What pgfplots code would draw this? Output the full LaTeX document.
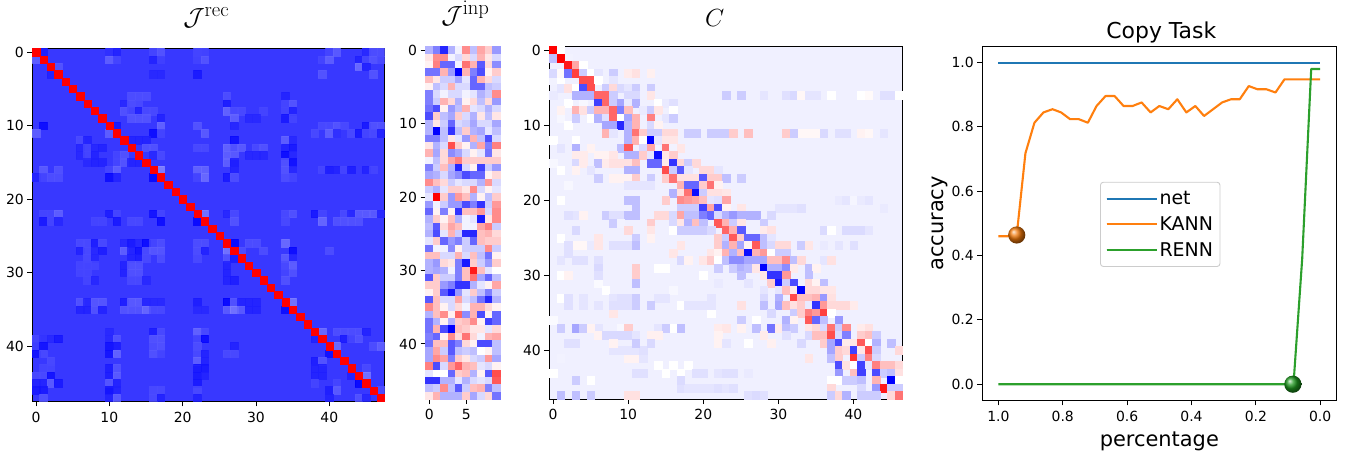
\documentclass[border=0pt]{standalone}
\usepackage[no-math]{fontspec}
\setmainfont{DejaVu Sans}
\usepackage{pgfplots}
\usepackage{pgfplotstable}
\pgfplotsset{compat=1.18}
\pgfplotsset{
  /pgf/number format/assume math mode=true,
  colormap={bwr}{rgb255=(0,0,255) rgb255=(255,255,255) rgb255=(255,0,0)},
  base/.style={scale only axis, anchor=south west, axis line style={line width=0.9bp},
    tick style={line width=0.9bp,black}, major tick length=5bp, tick align=outside,
    tick label style={font=\fontsize{14}{16}\selectfont}, xticklabel style={yshift=-2bp}, xtick pos=bottom, ytick pos=left},
  heat/.style={base, y dir=reverse, point meta min=-100, point meta max=100, enlargelimits=false,
    title style={font=\fontsize{29}{31}\selectfont, at={(0.5,1)}, anchor=south, yshift=11bp}},
  cellmarks/.style={only marks, scatter, mark=square*, mark size=#1, point meta=explicit,
    scatter/use mapped color={draw=mapped color, fill=mapped color, line width=0.1bp}},
  ballnode/.style={only marks, mark=none, forget plot, point meta=y, nodes near coords={},
    every node near coord/.style={circle, anchor=center, inner sep=0pt, minimum size=17.2bp, ball color=#1}},
}
\definecolor{ballO}{RGB}{240,120,10}
\definecolor{ballG}{RGB}{30,150,30}
\pgfplotstableread{
-30 -50 -85 -30 -5 45 -25 35 20 -40
10 45 45 -5 -15 15 -15 30 10 -15
5 50 -60 -60 -5 55 30 -65 15 -45
-55 -55 30 -40 -100 30 -50 -70 5 20
25 10 -20 -20 -35 -10 -60 30 15 -15
5 -25 -15 30 -15 -15 -60 -60 -25 -20
-50 -15 -5 -15 -15 -5 -10 -30 -20 45
-50 -20 30 15 -30 5 15 -25 15 -40
-55 -70 5 -40 -25 30 -10 -15 -30 -15
-70 20 -25 -35 20 -15 -30 10 -25 10
-30 10 -20 -60 -15 -20 -35 -15 -15 -35
-30 -100 -25 -80 -25 20 -30 -35 -10 -25
-50 -50 -25 10 -10 -40 30 -25 -70 -15
10 -30 -15 70 20 5 -30 35 -50 50
30 -35 15 -45 -35 -15 5 -10 -55 10
-5 -25 15 35 50 20 20 20 20 20
-50 -20 25 -30 -85 -15 5 -75 -20 -40
-35 -30 -15 -35 -45 -70 -60 -60 5 15
45 25 15 -20 -10 -15 -15 -30 40 -15
-20 -30 -10 20 20 10 45 -15 5 -10
-10 100 20 -40 40 25 -30 5 -25 20
-40 -5 -20 -40 -40 -70 -50 -80 -20 40
-60 5 -50 5 -80 25 25 40 -15 45
-30 20 5 25 -30 -5 -10 -90 10 45
-25 -65 15 35 25 -5 -5 35 50 -20
-30 -70 -10 30 -20 -85 -85 25 30 15
-10 20 -60 -40 -50 -20 -60 25 20 20
-55 -5 -5 -45 5 -20 -20 -20 45 -20
25 25 -15 -15 30 -15 25 -25 -55 5
-30 -40 15 10 -50 -90 20 -20 -40 20
-30 -35 -30 -5 -50 25 90 25 -10 0
-65 20 -20 -20 -50 25 55 -35 -60 -25
20 20 -40 -50 -80 -80 -30 -10 5 35
5 20 -65 -90 -40 -10 20 -25 -50 -20
-65 25 -15 -15 35 -15 -25 -55 -85 -30
45 25 5 -15 15 -5 30 30 15 5
-30 25 45 5 60 -45 30 -70 5 -60
-55 -30 5 -30 20 25 45 5 -75 -60
-55 30 -70 -100 25 20 10 10 -10 15
-50 -60 5 45 15 55 15 -5 30 35
-55 25 25 -65 -50 15 5 -70 -70 -25
-35 35 -20 -65 -25 -20 -25 0 5 -25
-35 45 35 -50 20 10 -15 -20 40 -35
50 -70 -15 40 60 30 25 -10 -15 5
-10 0 0 -60 20 25 -30 5 -65 70
-80 -80 -30 -30 -10 -30 -15 -10 -15 65
-25 -20 45 -25 -65 -20 25 30 -50 -25
10 30 -30 -30 -30 20 -35 -15 15 -55
}\inpdata
\begin{document}
\begin{tikzpicture}
\useasboundingbox (0,0) rectangle (1351bp,453bp);
% ---------- J rec
\begin{axis}[heat, at={(32.3bp,51.7bp)}, width=352bp, height=353bp, xmin=-0.5, xmax=47.5, ymin=-0.5, ymax=47.5,
  xtick={0,10,20,30,40}, ytick={0,10,20,30,40}, title={$\mathcal{J}^{\mathrm{rec}}$}, title style={xshift=-2bp},
  axis background/.style={fill={rgb,255:red,56;green,56;blue,255}}]
\addplot[cellmarks=3.75bp, scatter/use mapped color={draw=mapped color, fill=mapped color, line width=0.1bp, opacity=.8}] coordinates {
(1,0)[-90](10,0)[-82](11,0)[-88](16,0)[-72](17,0)[-65](22,0)[-72](23,0)[-73](40,0)[-72](41,0)[-62](45,0)[-85](46,0)[-68](47,0)[-68]
(0,1)[-60](10,1)[-60](11,1)[-72](16,1)[-88](17,1)[-74](22,1)[-73](23,1)[-65](39,1)[-72](40,1)[-60](44,1)[-88](45,1)[-72](46,1)[-65](47,1)[-70]
(3,2)[-65](44,2)[-55](45,2)[-88]
(2,3)[-88](16,3)[-85](17,3)[-85](22,3)[-92](39,3)[-65](46,3)[-65]
(26,6)[-68](34,6)[-88](13,6)[-68](14,6)[-68](15,6)[-68]
(12,7)[-85](13,7)[-68](14,7)[-70](26,7)[-90](34,7)[-72](35,7)[-65]
(12,8)[-66](13,8)[-72](14,8)[-88](15,8)[-70](16,8)[-70](26,8)[-58](27,8)[-70](28,8)[-70](31,8)[-72](34,8)[-72](35,8)[-88]
(13,9)[-65](14,9)[-65](15,9)[-65](17,9)[-88](27,9)[-60](29,9)[-85](30,9)[-85](34,9)[-92](35,9)[-72]
(1,10)[-98](11,10)[-92](17,10)[-58](22,10)[-65](27,10)[-86](39,10)[-70](40,10)[-70](41,10)[-65](42,10)[-70](45,10)[-92](46,10)[-66](47,10)[-66]
(0,11)[-60](10,11)[-60](16,11)[-98](17,11)[-72](23,11)[-62](38,11)[-70](40,11)[-60](41,11)[-82](43,11)[-70](44,11)[-92](45,11)[-72](46,11)[-70](47,11)[-88]
(6,12)[-70](7,12)[-88](13,12)[-88](14,12)[-88](15,12)[-88](27,12)[-96](34,12)[-60](35,12)[-85]
(6,13)[-86](7,13)[-72](8,13)[-86](9,13)[-88](15,13)[-66](16,13)[-66](22,13)[-70](23,13)[-70](26,13)[-58](27,13)[-66](28,13)[-62](30,13)[-70](31,13)[-66](34,13)[-88](35,13)[-92]
(6,14)[-86](7,14)[-72](8,14)[-88](11,14)[-72](12,14)[-66](16,14)[-85](17,14)[-70](26,14)[-60](27,14)[-62](29,14)[-86](30,14)[-86](31,14)[-86](34,14)[-98](35,14)[-86]
(7,15)[-85](8,15)[-88](9,15)[-88](11,15)[-72](12,15)[-65](13,15)[-88](14,15)[-88](26,15)[-60](27,15)[-90](34,15)[-66](35,15)[-96]
(1,16)[-62](3,16)[-66](10,16)[-72](11,16)[-60](17,16)[-45](22,16)[-58](23,16)[-58](27,16)[-88](34,16)[-65](35,16)[-86](39,16)[-72](40,16)[-90](41,16)[-88](42,16)[-72](43,16)[-90](45,16)[-88](46,16)[-72]
(0,17)[-88](1,17)[-72](2,17)[-68](3,17)[-68](10,17)[-98](11,17)[-88](16,17)[-100](22,17)[-72](23,17)[-55](26,17)[-92](27,17)[-68](34,17)[-68](35,17)[-72]
(1,22)[-72](2,22)[-72](3,22)[-60](10,22)[-90](11,22)[-72](16,22)[-95](17,22)[-72](23,22)[-50](26,22)[-86](27,22)[-70](34,22)[-70](35,22)[-66](38,22)[-92](39,22)[-72](42,22)[-70](43,22)[-85](44,22)[-62](45,22)[-62](46,22)[-62](47,22)[-85]
(1,23)[-92](2,23)[-72](3,23)[-86](8,23)[-72](9,23)[-72](11,23)[-92](13,23)[-70](14,23)[-70](17,23)[-98](22,23)[-100](27,23)[-65](34,23)[-70](39,23)[-56](41,23)[-66](42,23)[-66](43,23)[-66](44,23)[-66]
(6,26)[-70](7,26)[-70](8,26)[-90](9,26)[-70](12,26)[-85](13,26)[-92](14,26)[-86](15,26)[-98](16,26)[-72](17,26)[-68](22,26)[-68](23,26)[-68](27,26)[-100](29,26)[-68](30,26)[-68](34,26)[-55]
(6,27)[-88](7,27)[-70](8,27)[-85](9,27)[-90](12,27)[-60](13,27)[-88](14,27)[-95](15,27)[-70](16,27)[-64](17,27)[-64](22,27)[-68](23,27)[-88](26,27)[-50](28,27)[-68](31,27)[-68](35,27)[-98](40,27)[-68]
(7,28)[-70](8,28)[-86](13,28)[-88](14,28)[-90](15,28)[-70](17,28)[-68](22,28)[-70](26,28)[-66](27,28)[-90](34,28)[-62](35,28)[-86]
(6,29)[-72](7,29)[-72](8,29)[-72](12,29)[-88](13,29)[-66](14,29)[-66](26,29)[-88](34,29)[-70](35,29)[-60]
(6,30)[-72](7,30)[-72](12,30)[-88](13,30)[-66](14,30)[-66](26,30)[-88](34,30)[-72](35,30)[-66]
(7,31)[-72](8,31)[-86](13,31)[-70](14,31)[-70](15,31)[-85](26,31)[-88](27,31)[-90](34,31)[-66]
(6,34)[-66](7,34)[-86](8,34)[-64](9,34)[-64](12,34)[-90](13,34)[-62](14,34)[-62](15,34)[-86](16,34)[-85](17,34)[-85](22,34)[-90](26,34)[-100](27,34)[-66](28,34)[-88](29,34)[-88](30,34)[-88](35,34)[-50]
(6,35)[-88](7,35)[-88](8,35)[-66](9,35)[-88](12,35)[-65](13,35)[-65](14,35)[-65](15,35)[-56](16,35)[-70](17,35)[-70](22,35)[-85](23,35)[-85](26,35)[-62](27,35)[-50](28,35)[-62](29,35)[-88](30,35)[-88](34,35)[-98]
(10,38)[-85](16,38)[-90](17,38)[-70](22,38)[-58](23,38)[-70](39,38)[-55](41,38)[-68](42,38)[-68](43,38)[-68](44,38)[-68](45,38)[-88]
(0,39)[-72](1,39)[-80](2,39)[-85](3,39)[-92](10,39)[-85](11,39)[-66](16,39)[-66](17,39)[-66](22,39)[-72](23,39)[-98](38,39)[-88](42,39)[-90](43,39)[-72](44,39)[-66]
(0,40)[-75](1,40)[-95](10,40)[-95](11,40)[-90](16,40)[-68](17,40)[-66](22,40)[-68](27,40)[-88](41,40)[-55](46,40)[-68](47,40)[-60]
(0,41)[-95](1,41)[-70](10,41)[-95](11,41)[-58](16,41)[-66](17,41)[-72](22,41)[-70](23,41)[-88](26,41)[-70](27,41)[-70](40,41)[-96]
(2,42)[-70](22,42)[-60](23,42)[-88](38,42)[-90](39,42)[-65]
(1,43)[-72](2,43)[-72](10,43)[-90](11,43)[-66](22,43)[-92](23,43)[-92](38,43)[-88](39,43)[-88](45,43)[-70]
(0,44)[-70](1,44)[-70](2,44)[-95](10,44)[-90](11,44)[-62](22,44)[-92](23,44)[-88](38,44)[-88](39,44)[-88](43,44)[-88](45,44)[-50]
(0,45)[-88](1,45)[-88](2,45)[-62](3,45)[-92](10,45)[-64](11,45)[-88](22,45)[-92](38,45)[-72](41,45)[-72](44,45)[-100]
(0,46)[-92](1,46)[-92](10,46)[-95](11,46)[-88](16,46)[-70](17,46)[-70](22,46)[-70](40,46)[-90](41,46)[-62](47,46)[-68]
(1,47)[-66](10,47)[-88](11,47)[-62](16,47)[-70](17,47)[-88](22,47)[-88](40,47)[-88](44,47)[-66](45,47)[-85]
};
\addplot[cellmarks=3.68bp] coordinates {
(0,0)[100](1,1)[100](2,2)[100](3,3)[100](4,4)[100](5,5)[100](6,6)[100](7,7)[100](8,8)[100](9,9)[100](10,10)[100](11,11)[100](12,12)[100](13,13)[100](14,14)[100](15,15)[100](16,16)[100](17,17)[100](18,18)[100](19,19)[100](20,20)[100](21,21)[100](22,22)[100](23,23)[100](24,24)[100](25,25)[100](26,26)[100](27,27)[100](28,28)[100](29,29)[100](30,30)[100](31,31)[100](32,32)[100](33,33)[100](34,34)[100](35,35)[100](36,36)[100](37,37)[100](38,38)[100](39,39)[100](40,40)[100](41,41)[100](42,42)[100](43,43)[100](44,44)[100](45,45)[100](46,46)[100](47,47)[100]
};
\end{axis}
% ---------- J inp
\begin{axis}[heat, at={(425.5bp,54bp)}, width=74bp, height=352.5bp, xmin=-0.5, xmax=9.5, ymin=-0.5, ymax=47.5,
  xtick={0,5}, ytick={0,10,20,30,40}, title={$\mathcal{J}^{\mathrm{inp}}$}, title style={xshift=3bp}]
\pgfplotsinvokeforeach{0,...,9}{
\addplot[cellmarks=3.75bp] table[x expr=#1, y expr=\coordindex, meta index=#1, header=false] {\inpdata};
}
\end{axis}
% ---------- C
\begin{axis}[heat, at={(549.3bp,54bp)}, width=353bp, height=352.5bp, xmin=-0.5, xmax=46.5, ymin=-0.5, ymax=46.5,
  xtick={0,10,20,30,40}, ytick={0,10,20,30,40}, title={$C$}, title style={xshift=-11bp},
  axis background/.style={fill={rgb,255:red,240;green,240;blue,255}}]
\addplot[cellmarks=3.8bp] coordinates {
(2,1)[-5](0,4)[-5](1,4)[0](0,6)[-8](2,7)[0](4,7)[-3](1,9)[-3](2,10)[0](0,12)[0](3,12)[0](0,15)[-3](1,16)[0](2,18)[-3](1,20)[0](1,30)[0](2,30)[5](1,33)[0](0,36)[-2](1,28)[-10](6,31)[-2](7,32)[0](1,25)[0](8,35)[10](9,37)[-3](1,41)[-5](0,43)[0](5,44)[0](14,42)[0](17,43)[0](18,42)[0](15,29)[0](20,30)[0](16,32)[-3](17,28)[-15](21,35)[0](26,39)[0](27,36)[0]
(28,6)[-10](31,6)[-12](32,6)[-15](33,6)[3](34,6)[-10](35,6)[-10](37,6)[0](41,6)[0](42,6)[2](44,6)[-12](45,6)[-12](46,6)[0]
(33,11)[3](34,11)[3](35,11)[3](36,11)[-15](38,11)[-12](39,11)[-12](41,11)[5](42,11)[3](44,11)[-10]
(6,28)[-12](6,29)[-15](6,30)[-12](4,33)[-10](2,33)[-12](2,34)[-12](4,34)[-10](8,33)[-10](9,33)[-12](10,33)[-12](8,34)[-12](9,34)[-12](10,34)[-12](6,34)[-10]
(14,33)[-10](15,33)[-10](17,34)[0](18,34)[-10](19,34)[-10](20,34)[-10](21,33)[-10](21,34)[-10]
(3,22)[-10](4,22)[5](2,22)[-12](3,26)[3](4,26)[3](2,26)[-12](2,27)[-12](3,28)[-12](4,28)[-12](5,26)[-8](8,26)[-12](9,26)[-12](10,26)[-12]
(38,20)[-8](39,20)[-10](40,20)[-4](41,20)[-8](42,20)[-10](44,21)[-8](30,21)[-10](31,21)[-10](32,21)[-10](33,21)[-12]
(36,24)[-14](37,24)[0](39,24)[-14](40,24)[-14](41,24)[-14](42,24)[-10](36,26)[-8](38,26)[-10](40,26)[-12]
(19,43)[-12](20,43)[-12](22,43)[-10](23,43)[-12](24,43)[-12](26,43)[-8](16,42)[0](15,43)[0](11,43)[-12](12,43)[-12](10,41)[5](11,41)[5](12,41)[-10]
(17,45)[-12](18,45)[-10](19,45)[-10](20,45)[-10](21,45)[-10](22,45)[-12](23,45)[-10](24,45)[-12](17,44)[-14](26,46)[-12](27,46)[-14](28,46)[-12]
(8,40)[-10](9,40)[-10](10,40)[-10](11,40)[-10](12,40)[-12](2,39)[-12](3,39)[-12](14,37)[-10](16,37)[0](6,37)[-10]
};
\addplot[cellmarks=3.8bp] coordinates {
(0,0)[100](1,0)[0]
(0,1)[-25](1,1)[100]
(2,2)[90](3,2)[35](4,2)[0]
(0,3)[-15](1,3)[2](2,3)[-55](3,3)[75](4,3)[-20](5,3)[0](6,3)[-10](8,3)[-20](10,3)[8](11,3)[12](13,3)[6]
(4,4)[70](5,4)[70](6,4)[0](8,4)[-10]
(1,5)[-10](2,5)[12](3,5)[0](4,5)[-70](5,5)[70](7,5)[-20](8,5)[15](9,5)[-15](10,5)[-10](11,5)[-20](13,5)[-20]
(3,6)[-30](4,6)[-30](5,6)[-30](6,6)[60](7,6)[60](8,6)[-20](10,6)[-15](11,6)[-15](13,6)[10](23,6)[-20](25,6)[-20]
(6,7)[-75](7,7)[60](8,7)[-20](9,7)[-35](10,7)[-8](11,7)[-30](14,7)[0](15,7)[-8](16,7)[-12]
(1,8)[5](3,8)[30](4,8)[12](5,8)[-20](6,8)[30](7,8)[30](8,8)[60](9,8)[-50](10,8)[25](12,8)[-8](13,8)[-20](14,8)[10](16,8)[0]
(3,9)[-20](5,9)[0](6,9)[-30](7,9)[-12](8,9)[60](9,9)[0](10,9)[-35](11,9)[30](13,9)[50](15,9)[-10](16,9)[-20]
(7,10)[-35](8,10)[-35](9,10)[-85](10,10)[-30](11,10)[30](13,10)[-15](14,10)[5]
(7,11)[30](8,11)[-10](10,11)[-30](11,11)[55](12,11)[20](13,11)[-20](14,11)[-20](15,11)[15](16,11)[15](18,11)[-20](19,11)[-20](21,11)[-20](22,11)[-20](23,11)[-20](24,11)[20](26,11)[25](31,11)[20](32,11)[-20]
(10,12)[-30](11,12)[30](12,12)[0](13,12)[-100](14,12)[-10](15,12)[10](16,12)[10]
(1,13)[-10](3,13)[-30](5,13)[5](9,13)[-25](10,13)[65](12,13)[-15](13,13)[35](15,13)[55](16,13)[-5](17,13)[10]
(3,14)[8](4,14)[8](6,14)[5](7,14)[5](8,14)[10](10,14)[-30](11,14)[-30](12,14)[20](13,14)[-10](14,14)[-95](15,14)[10](16,14)[20]
(3,15)[-15](4,15)[8](6,15)[-25](7,15)[8](8,15)[12](9,15)[12](10,15)[12](11,15)[25](13,15)[-60](14,15)[-60](15,15)[8](16,15)[-80](17,15)[15](18,15)[-20](19,15)[15]
(3,16)[5](5,16)[-10](10,16)[-30](11,16)[-30](15,16)[70](16,16)[-20](17,16)[-65](18,16)[-10](20,16)[15](21,16)[15](22,16)[-10]
(6,17)[-20](8,17)[5](9,17)[5](10,17)[5](11,17)[20](13,17)[-20](15,17)[20](16,17)[55](17,17)[12](18,17)[12](19,17)[12](20,17)[-65](21,17)[20](22,17)[20](23,17)[-25](25,17)[-20]
(10,18)[-10](11,18)[-10](12,18)[-10](13,18)[-10](17,18)[30](18,18)[-60](19,18)[-60](20,18)[20](21,18)[55](22,18)[5]
(16,19)[-30](17,19)[12](18,19)[55](19,19)[-95](20,19)[-20](21,19)[12](22,19)[12](23,19)[10]
(10,20)[-25](11,20)[-25](15,20)[20](17,20)[45](18,20)[40](19,20)[35](20,20)[25](21,20)[-10](22,20)[-12](23,20)[35]
(11,21)[-25](17,21)[-20](18,21)[-20](19,21)[-20](20,21)[-75](21,21)[35](22,21)[-70](23,21)[5](25,21)[10]
(7,22)[-20](8,22)[-12](9,22)[-12](10,22)[-25](11,22)[-25](14,22)[15](15,22)[15](16,22)[-15](17,22)[35](18,22)[-25](19,22)[-25](20,22)[-50](21,22)[-60](22,22)[-15](23,22)[-30](24,22)[-40](25,22)[-30](26,22)[-30](27,22)[-30](29,22)[-15]
(8,23)[-20](9,23)[-5](13,23)[20](16,23)[-15](17,23)[10](18,23)[-30](19,23)[25](20,23)[-25](22,23)[65](23,23)[30](24,23)[-20](25,23)[10](28,23)[-20]
(3,24)[-15](10,24)[15](13,24)[10](16,24)[0](17,24)[-20](18,24)[-20](19,24)[-20](20,24)[-20](21,24)[-15](23,24)[60](24,24)[30](25,24)[-65](28,24)[8](29,24)[12]
(6,25)[10](11,25)[-20](13,25)[5](22,25)[20](23,25)[-20](24,25)[65](25,25)[20](26,25)[-60](27,25)[-60](28,25)[-25](29,25)[-10]
(6,26)[10](11,26)[-25](17,26)[10](22,26)[20](23,26)[-30](24,26)[30](25,26)[-35](26,26)[5](27,26)[65](28,26)[-25](29,26)[-15](30,26)[15](31,26)[15](33,26)[-20](34,26)[10]
(16,27)[10](21,27)[10](22,27)[5](23,27)[30](24,27)[-30](25,27)[25](26,27)[-95](27,27)[30](28,27)[40](29,27)[0](30,27)[-20](31,27)[-20]
(17,28)[-15](18,28)[5](20,28)[10](21,28)[20](22,28)[0](23,28)[-25](24,28)[-45](25,28)[-45](26,28)[-35](27,28)[-35](28,28)[-35](29,28)[25](30,28)[25](31,28)[45](32,28)[-25](33,28)[15](36,28)[-10](37,28)[12]
(11,29)[20](14,29)[0](22,29)[-20](24,29)[-20](25,29)[-30](26,29)[-25](27,29)[10](28,29)[-100](29,29)[-30](30,29)[-30](31,29)[-45](32,29)[8](34,29)[-25](35,29)[5]
(11,30)[20](25,30)[-25](28,30)[10](29,30)[-80](30,30)[-80](31,30)[40](34,30)[-25]
(11,31)[-25](22,31)[-8](26,31)[-10](29,31)[20](30,31)[-90](31,31)[-20](32,31)[-70](34,31)[15](35,31)[5](36,31)[-25]
(28,32)[-10](30,32)[-10](31,32)[25](32,32)[8](33,32)[-100](34,32)[15](35,32)[15](36,32)[10](37,32)[10]
(11,33)[-20](28,33)[-15](30,33)[-30](32,33)[70](33,33)[25](34,33)[25](35,33)[30](36,33)[-40](37,33)[12]
(11,34)[-20](13,34)[-20](25,34)[12](28,34)[-25](30,34)[-35](31,34)[25](32,34)[12](33,34)[20](34,34)[-8](35,34)[-80](36,34)[40](37,34)[15](38,34)[15](39,34)[15](40,34)[8]
(29,35)[-15](32,35)[-20](33,35)[20](34,35)[50](35,35)[40](36,35)[75](37,35)[0]
(25,36)[-20](31,36)[-30](32,36)[5](34,36)[65](35,36)[-60](36,36)[-25](38,36)[-40]
(1,37)[-20](3,37)[-35](4,37)[-20](5,37)[5](10,37)[20](15,37)[-20](17,37)[-25](22,37)[8](23,37)[10](25,37)[5](27,37)[-25](29,37)[-55](30,37)[8](31,37)[-25](32,37)[-20](34,37)[10](35,37)[15](36,37)[-15](37,37)[55](38,37)[-20](39,37)[45](41,37)[8](42,37)[12]
(6,38)[5](7,38)[-15](8,38)[-15](9,38)[-15](10,38)[-15](11,38)[-10](13,38)[6](14,38)[6](22,38)[5](28,38)[8](31,38)[-12](34,38)[-15](35,38)[25](36,38)[25](37,38)[70](38,38)[-15](39,38)[-50](41,38)[20](42,38)[25](43,38)[-20]
(8,39)[5](11,39)[-20](13,39)[-15](22,39)[5](23,39)[-10](29,39)[6](33,39)[-15](36,39)[20](37,39)[-35](38,39)[-70](39,39)[8](40,39)[10](41,39)[65](42,39)[0](43,39)[-30](45,39)[-25]
(37,40)[-35](38,40)[20](39,40)[15](40,40)[-75](41,40)[10](42,40)[70](43,40)[-20](46,40)[15]
(34,41)[10](37,41)[-25](38,41)[20](40,41)[80](41,41)[-20](42,41)[50](43,41)[-15]
(38,42)[-70](39,42)[12](40,42)[0](41,42)[-75](42,42)[-10](43,42)[50](44,42)[25](45,42)[25](46,42)[15]
(38,43)[-40](40,43)[25](41,43)[-75](43,43)[-70](44,43)[-20](45,43)[-25](46,43)[12]
(3,44)[-20](37,44)[0](38,44)[0](39,44)[-20](40,44)[-20](41,44)[-25](43,44)[30](45,44)[-100](46,44)[0]
(37,45)[15](41,45)[-15](43,45)[-40](44,45)[90](45,45)[-20](46,45)[-20]
(1,46)[-25](3,46)[-25](5,46)[-20](10,46)[12](11,46)[12](37,46)[-20](38,46)[15](39,46)[-30](41,46)[-20](42,46)[-20](43,46)[-20](45,46)[15](46,46)[55]
};
\end{axis}
% ---------- line chart
\begin{axis}[base, at={(982.3bp,52.7bp)}, width=354bp, height=353.8bp, x dir=reverse,
  xmin=-0.05, xmax=1.05, ymin=-0.05, ymax=1.05, xtick={0,0.2,0.4,0.6,0.8,1}, ytick={0,0.2,0.4,0.6,0.8,1},
  tick label style={/pgf/number format/fixed, /pgf/number format/fixed zerofill, /pgf/number format/precision=1},
  title={Copy Task}, title style={font=\fontsize{22}{24}\selectfont, at={(0.5,1)}, anchor=south, yshift=-6bp, xshift=2bp},
  xlabel={percentage}, ylabel={accuracy}, label style={font=\fontsize{21}{23}\selectfont},
  xlabel style={yshift=-4bp}, ylabel style={yshift=-3bp},
  legend image code/.code={\draw[#1] (0,0) -- (38bp,0); \path (0,0) -- (50bp,0);},
  legend style={at={(0.3325,0.3768)}, anchor=south west, draw=black!20, rounded corners=3bp,
    font=\fontsize{19}{23}\selectfont, line width=0.9bp, inner xsep=5bp, inner ysep=7bp, row sep=6.5bp},
  legend cell align=left]
\addplot[line width=2.1bp, color={rgb,255:red,31;green,119;blue,180}] coordinates {(1,1)(0,1)};
\addlegendentry{net}
\addplot[line width=2.1bp, color={rgb,255:red,255;green,127;blue,14}, line join=round] coordinates {
(1,.46)(.972,.46)(.943,.464)(.916,.718)(.888,.813)(.86,.845)(.832,.855)(.805,.845)(.777,.824)(.75,.824)(.722,.813)(.695,.865)(.667,.896)(.639,.896)(.611,.865)(.583,.865)(.555,.876)(.527,.845)(.5,.865)(.472,.855)(.444,.886)(.416,.845)(.388,.865)(.361,.834)(.333,.855)(.305,.876)(.277,.886)(.25,.886)(.222,.927)(.195,.917)(.167,.917)(.139,.907)(.111,.948)(.083,.948)(.056,.948)(.028,.948)(0,.948)};
\addlegendentry{KANN}
\addplot[line width=2.1bp, color={rgb,255:red,44;green,160;blue,44}, line join=round] coordinates {
(1,0)(.083,0)(.056,.39)(.028,.98)(0,.98)};
\addlegendentry{RENN}
\addplot[ballnode=ballO] coordinates {(.943,.464)};
\addplot[ballnode=ballG] coordinates {(.085,0)};
\end{axis}
\end{tikzpicture}
\end{document}
